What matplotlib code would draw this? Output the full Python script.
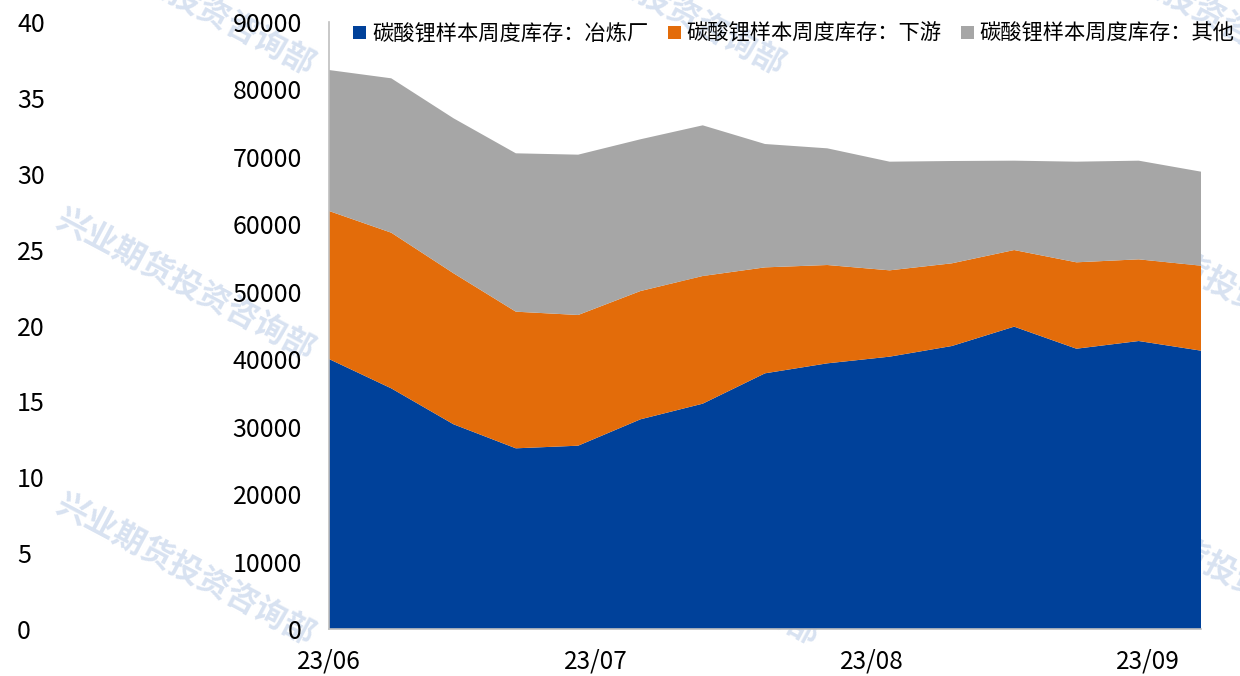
import matplotlib
matplotlib.use("Agg")
import matplotlib.pyplot as plt
import matplotlib.dates as mdates
from matplotlib.patches import Patch
import numpy as np
import pandas as pd

plt.rcParams['font.family'] = ['Noto Sans CJK SC', 'DejaVu Sans']

# ---- data ----
dates = pd.date_range("2023-06-01", periods=15, freq="7D")
smelter = [40030, 35680, 30350, 26790, 27180, 31090, 33410, 37910, 39390, 40380, 41960, 44830, 41560, 42700, 41270]
downstream = [21950, 23080, 22390, 20260, 19380, 19020, 18930, 15710, 14580, 12800, 12260, 11360, 12810, 12110, 12600]
other = [20900, 22890, 22980, 23480, 23770, 22500, 22340, 18290, 17300, 16110, 15170, 13250, 14920, 14630, 13940]
series_names = ["碳酸锂样本周度库存：冶炼厂", "碳酸锂样本周度库存：下游", "碳酸锂样本周度库存：其他"]
colors = ["#00419A", "#E36C0A", "#A6A6A6"]
xtick_dates = pd.to_datetime(["2023-06-01", "2023-07-01", "2023-08-01", "2023-09-01"])
left_ticks = [0, 5, 10, 15, 20, 25, 30, 35, 40]
right_ticks = [0, 10000, 20000, 30000, 40000, 50000, 60000, 70000, 80000, 90000]

W, H = 1240, 676
fig = plt.figure(figsize=(W / 100, H / 100), dpi=100)

# watermarks
wm_color = "#D8E2F1"
wm_pos = [(185, 0), (185, 285), (185, 570),
          (655, 0), (690, 285), (690, 570),
          (1180, 0), (1220, 285), (1220, 570)]
for cx, cy in wm_pos:
    fig.text(cx / W, 1 - cy / H, "兴业期货投资咨询部", rotation=-28, fontsize=23,
             fontweight="bold", color=wm_color, ha="center", va="center",
             zorder=-5, rotation_mode="anchor")

ax = fig.add_axes([329 / W, 1 - 629 / H, (1201 - 329) / W, (629 - 22) / H])
ax.patch.set_alpha(0)
ax.stackplot(dates, smelter, downstream, other, colors=colors, linewidth=0)
ax.set_xlim(dates[0], dates[-1])
ax.set_ylim(0, 90000)
ax.set_yticks(right_ticks)
ax.set_yticklabels([str(v) for v in right_ticks])
ax.set_xticks(xtick_dates)
ax.xaxis.set_major_formatter(mdates.DateFormatter("%y/%m"))
for s in ["top", "right"]:
    ax.spines[s].set_visible(False)
for s in ["left", "bottom"]:
    ax.spines[s].set_color("#BFBFBF")
    ax.spines[s].set_linewidth(1.2)
ax.tick_params(axis="y", length=0, pad=19.5, labelsize=18)
ax.tick_params(axis="x", length=0, pad=14, labelsize=17.5)

ax2 = ax.twinx()
ax2.patch.set_alpha(0)
ax2.set_ylim(0, 40)
ax2.set_yticks(left_ticks)
ax2.yaxis.tick_left()
for s in ax2.spines.values():
    s.set_visible(False)
ax2.tick_params(axis="y", length=0, pad=224.5, labelsize=18)
for lbl in ax2.get_yticklabels():
    lbl.set_horizontalalignment("left")

handles = [Patch(facecolor=c, edgecolor="none") for c in colors]
fig.legend(handles, series_names, loc="center left", bbox_to_anchor=(353 / W, 1 - 34 / H),
           ncol=3, frameon=False, handlelength=0.62, handleheight=0.62,
           handletextpad=0.28, columnspacing=0.9, fontsize=15.3, borderaxespad=0,
           borderpad=0)

fig.savefig("out.png", dpi=100)
